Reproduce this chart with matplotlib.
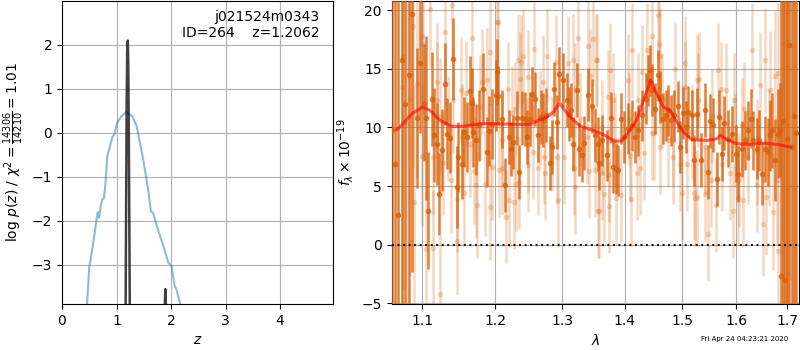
import numpy as np
import matplotlib
matplotlib.use('Agg')
import matplotlib.pyplot as plt
from matplotlib.ticker import NullLocator

# ---- left panel: redshift fit ----
chi2_z = [0.40, 0.46, 0.50, 0.52, 0.60, 0.65, 0.67, 0.68, 0.71, 0.74, 0.77, 0.80,
          0.83, 0.88, 0.92, 0.97, 1.01, 1.09, 1.17, 1.21, 1.29, 1.37, 1.43, 1.50,
          1.58, 1.63, 1.67, 1.74, 1.86, 1.95, 2.01, 2.06, 2.10, 2.17, 2.25]
chi2_logp = [-6.0, -3.89, -3.03, -2.92, -2.27, -1.82, -1.80, -1.93, -1.67, -1.50,
             -1.49, -1.10, -0.53, -0.30, -0.11, 0.00, 0.23, 0.38, 0.47, 0.45, 0.38,
             0.15, -0.23, -0.68, -1.29, -1.78, -1.82, -2.12, -2.58, -2.95, -3.03,
             -3.45, -3.57, -3.89, -6.0]

pz_z = [0.0, 1.10, 1.15, 1.165, 1.175, 1.185, 1.195, 1.2062, 1.215, 1.225, 1.235,
        1.245, 1.26, 1.30, 1.84, 1.87, 1.885, 1.895, 1.905, 1.92, 1.95, 4.98]
pz_logp = [-30, -20, -8, -4.5, -1.8, 0.6, 1.8, 2.1, 1.6, 0.0, -2.2, -4.5, -8, -20,
           -12, -5, -3.9, -3.55, -3.9, -5, -12, -30]

# ---- right panel: spectrum ----
model_lam = [1.0669, 1.0733, 1.0861, 1.1004, 1.1101, 1.1234, 1.1392, 1.1551, 1.1784,
             1.2021, 1.2263, 1.2510, 1.2634, 1.2762, 1.2863, 1.2957, 1.3019, 1.3124,
             1.3282, 1.3489, 1.3651, 1.3843, 1.3954, 1.4093, 1.4206, 1.4319, 1.4445,
             1.4520, 1.4664, 1.4783, 1.4902, 1.5020, 1.5171, 1.5446, 1.5631, 1.5692,
             1.5818, 1.6009, 1.6265, 1.6525, 1.6790, 1.7060]
model_flux = [9.80, 10.17, 11.16, 11.73, 11.45, 10.60, 10.09, 10.09, 10.31, 10.31,
              10.26, 10.26, 10.60, 10.88, 11.31, 12.07, 11.59, 10.88, 10.09, 9.74,
              9.38, 8.81, 8.84, 9.74, 10.65, 12.30, 14.00, 13.15, 11.73, 11.45, 10.45,
              9.60, 8.95, 8.89, 9.03, 9.32, 8.95, 8.61, 8.55, 8.66, 8.55, 8.32]

bin_lam = [1.0615, 1.0648, 1.0690, 1.0733, 1.0775, 1.0831, 1.0866, 1.0927, 1.0970,
           1.1022, 1.1049, 1.1079, 1.1124, 1.1159, 1.1191, 1.1225, 1.1266, 1.1302,
           1.1333, 1.1370, 1.1406, 1.1461, 1.1483, 1.1529, 1.1561, 1.1607, 1.1644,
           1.1668, 1.1690, 1.1728, 1.1765, 1.1830, 1.1878, 1.1911, 1.1949, 1.2011,
           1.2029, 1.2044, 1.2101, 1.2140, 1.2198, 1.2228, 1.2261, 1.2311, 1.2349,
           1.2385, 1.2434, 1.2468, 1.2508, 1.2542, 1.2583, 1.2632, 1.2669, 1.2708,
           1.2744, 1.2810, 1.2836, 1.2876, 1.2922, 1.2953, 1.3015, 1.3068, 1.3104,
           1.3135, 1.3171, 1.3225, 1.3266, 1.3304, 1.3345, 1.3400, 1.3473, 1.3517,
           1.3560, 1.3582, 1.3635, 1.3707, 1.3777, 1.3815, 1.3855, 1.3888, 1.3938,
           1.3998, 1.4065, 1.4122, 1.4177, 1.4223, 1.4291, 1.4360, 1.4404, 1.4433,
           1.4473, 1.4520, 1.4567, 1.4607, 1.4664, 1.4706, 1.4752, 1.4800, 1.4858,
           1.4918, 1.4959, 1.5018, 1.5061, 1.5108, 1.5170, 1.5217, 1.5260, 1.5338,
           1.5412, 1.5462, 1.5504, 1.5566, 1.5629, 1.5672, 1.5722, 1.5771, 1.5847,
           1.5922, 1.5987, 1.6037, 1.6102, 1.6166, 1.6229, 1.6282, 1.6326, 1.6393,
           1.6438, 1.6503, 1.6556, 1.6609, 1.6655, 1.6701, 1.6755, 1.6809, 1.6855,
           1.6875, 1.6910, 1.6956, 1.6995, 1.7043, 1.7092, 1.7130, 1.7180]
bin_flux = [9.8, 6.85, 2.56, 15.7, 12.0, 14.5, 19.7, 10.8, 15.5, 12.1, 10.8, 2.9,
            12.4, 9.35, 8.55, 4.35, 8.1, 13.67, 9.46, 9.12, 15.86, 4.9, 7.47, 6.9,
            9.6, 9.17, 13.1, 12.07, 9.6, 8.95, 10.17, 13.3, 7.9, 9.69, 10.26, 12.73,
            14.7, 12.7, 10.7, 5.05, 9.17, 8.18, 8.75, 10.8, 6.19, 10.8, 10.74, 9.17,
            10.74, 12.87, 12.39, 9.32, 10.88, 10.6, 11.02, 6.96, 8.32, 13.3, 10.45,
            14.58, 14.07, 12.3, 11.17, 11.5, 8.61, 13.15, 8.18, 7.61, 8.66, 12.8,
            11.79, 9.32, 8.61, 6.96, 8.89, 7.61, 10.83, 6.62, 6.48, 6.33, 10.74, 9.17,
            9.89, 10.17, 9.17, 9.74, 11.02, 12.45, 14.0, 14.86, 13.2, 11.6, 14.43,
            12.58, 10.74, 11.02, 11.45, 10.6, 11.02, 11.79, 8.32, 11.22, 10.03, 11.3,
            11.02, 7.19, 11.17, 7.19, 11.45, 6.19, 10.54, 10.17, 5.63, 10.88, 7.76,
            10.37, 9.04, 9.46, 7.76, 6.05, 8.18, 8.89, 9.74, 10.74, 8.89, 8.18, 8.89,
            6.05, 8.18, 7.9, 9.32, 9.74, 7.19, 9.46, 9.74, -2.7, 10.5, -3.04, 9.0,
            17.0, 8.3, 11.0, 9.5]
bin_err = [25, 25, 25, 25, 22, 20, 22, 6, 6, 5, 7, 5, 4, 4, 3.5, 3.5, 3.5, 3.5, 3,
           3, 3.5, 3.5, 3, 3, 3, 3, 3, 3, 3, 3, 3, 3, 3, 3, 3, 3, 2.8, 2.5, 2.5, 2.3,
           2.3, 2.3, 2.3, 2.3, 2.3, 2.3, 2.3, 2.3, 2.3, 2.3, 2.3, 2.3, 2.3, 2.3, 2.3,
           2.3, 2.3, 2.3, 2.3, 2.3, 2.3, 2.3, 2.3, 2.3, 2.3, 2.3, 2.3, 2.3, 2.3, 2.3,
           2.3, 2.3, 2.3, 2.3, 2.2, 2.2, 2.2, 2.2, 2.2, 2.2, 2.2, 2.2, 2.2, 2.2, 2.2,
           2.2, 2.2, 2.2, 2.2, 2.2, 2.2, 2.2, 2.2, 2.2, 2.2, 2.2, 2.2, 2.2, 2.2, 2.2,
           2.2, 2.2, 2.2, 2.2, 2.2, 2.2, 2.2, 2.3, 2.3, 2.3, 2.3, 2.3, 2.3, 2.3, 2.3,
           2.3, 2.4, 2.4, 2.4, 2.4, 2.4, 2.5, 2.5, 2.5, 2.5, 2.6, 2.6, 2.7, 2.8, 2.9,
           3.0, 3.2, 3.5, 3.8, 4.0, 25, 25, 25, 25, 25, 25, 25, 25]

raw_lam = [1.0733, 1.0754, 1.0797, 1.0840, 1.0883, 1.0892, 1.0927, 1.0992, 1.0995,
           1.1013, 1.1049, 1.1102, 1.1137, 1.1145, 1.1191, 1.1194, 1.1235, 1.1238,
           1.1279, 1.1302, 1.1347, 1.1383, 1.1393, 1.1414, 1.1461, 1.1469, 1.1515,
           1.1529, 1.1561, 1.1589, 1.1644, 1.1668, 1.1700, 1.1728, 1.1746, 1.1784,
           1.1808, 1.1854, 1.1878, 1.1925, 1.1928, 1.1949, 1.2021, 1.2044, 1.2058,
           1.2093, 1.2097, 1.2151, 1.2188, 1.2192, 1.2238, 1.2276, 1.2286, 1.2296,
           1.2326, 1.2345, 1.2360, 1.2374, 1.2408, 1.2474, 1.2478, 1.2483, 1.2557,
           1.2572, 1.2623, 1.2658, 1.2708, 1.2712, 1.2734, 1.2760, 1.2836, 1.2897,
           1.2913, 1.2938, 1.3031, 1.3093, 1.3171, 1.3187, 1.3198, 1.3202, 1.3241,
           1.3277, 1.3383, 1.3409, 1.3420, 1.3436, 1.3489, 1.3517, 1.3528, 1.3544,
           1.3570, 1.3582, 1.3625, 1.3629, 1.3668, 1.3733, 1.3737, 1.3745, 1.3761,
           1.3815, 1.3843, 1.3855, 1.3943, 1.4065, 1.4069, 1.4093, 1.4110, 1.4127,
           1.4206, 1.4223, 1.4262, 1.4291, 1.4336, 1.4377, 1.4463, 1.4473, 1.4508,
           1.4577, 1.4581, 1.4607, 1.4611, 1.4636, 1.4752, 1.4830, 1.4840, 1.4870,
           1.4959, 1.4990, 1.5049, 1.5053, 1.5079, 1.5170, 1.5217, 1.5229, 1.5260,
           1.5264, 1.5278, 1.5302, 1.5408, 1.5416, 1.5466, 1.5523, 1.5536, 1.5610,
           1.5648, 1.5709, 1.5726, 1.5798, 1.5879, 1.5926, 1.5960, 1.5974, 1.6025,
           1.6041, 1.6106, 1.6133, 1.6152, 1.6229, 1.6295, 1.6390, 1.6397, 1.6458,
           1.6522, 1.6556, 1.6570, 1.6635, 1.6655, 1.6705, 1.6755, 1.6789, 1.6809,
           1.6821, 1.6921, 1.7057]
raw_flux = [13.4, 16.1, 10.3, 12.4, 18.6, 3.6, 13.7, 17.8, 7.6, 17.1, -0.4, 20.1,
            -0.3, 7.5, 12.3, 13.9, -4.2, 10.9, 7.0, 18.1, 9.9, 5.5, 20.4, 12.3, 3.9,
            0.3, 13.2, 9.2, 4.4, 12.9, 8.6, 17.6, 6.3, 5.1, 3.4, 11.7, 13.9, 5.2,
            14.0, 16.4, 3.2, 6.6, 19.0, 19.0, 6.4, 6.5, 8.9, 2.4, 13.3, 3.8, 11.2,
            3.6, 11.6, 5.2, 15.7, 5.3, 14.1, 15.6, 16.1, 14.3, 6.8, 8.5, 7.9, 16.7,
            6.5, 10.8, 13.9, 7.5, 6.1, 16.1, 8.6, 15.6, 7.5, 3.8, 7.5, 15.5, 15.7,
            6.5, 13.2, 4.9, 17.6, 10.7, 9.2, 16.9, 6.3, 14.4, 17.5, 6.4, 15.7, 15.7,
            2.9, 2.9, 10.0, 6.1, 4.3, 12.6, 5.9, 3.3, 14.9, 12.3, 8.9, 4.0, 4.2,
            14.0, 10.7, 7.6, 3.9, 16.6, 6.1, 12.3, 6.5, 14.7, 7.8, 16.6, 9.5, 17.8,
            9.5, 19.6, 17.1, 16.1, 8.3, 12.3, 8.9, 8.9, 7.5, 15.0, 6.9, 4.4, 15.5,
            13.4, 6.9, 9.6, 4.4, 4.0, 14.0, 4.1, 12.3, 14.1, 4.3, 8.3, 0.9, 5.5, 11.0,
            3.4, 14.9, 13.3, 6.9, 13.2, 6.1, 2.9, 12.3, 8.9, 4.0, 5.5, 10.2, 3.8,
            11.6, 7.5, 16.6, 5.1, 7.9, 13.6, 1.8, 15.7, 4.1, 8.3, 13.2, 2.8, 14.4,
            5.5, 14.6, -0.5, 17.1, 17.0]
raw_err = [20, 20, 18, 15, 12, 10, 8, 6, 6, 6, 5, 5, 5, 5, 5, 5, 5, 5, 4.5, 4.5,
           4.5, 4.5, 4.5, 4.5, 4.5, 4.5, 4.5, 4.5, 4.5, 4.5, 4.5, 4.5, 4.5, 4.5, 4.5,
           4.5, 4.5, 4.5, 4.5, 4.5, 4.5, 4.5, 4, 4, 4, 4, 4, 4, 4, 4, 4, 4, 4, 4, 4,
           4, 4, 4, 4, 4, 4, 4, 4, 4, 4, 4, 4, 4, 4, 4, 4, 4, 4, 4, 4, 4, 4, 4, 4, 4,
           4, 4, 4, 4, 4, 4, 4, 4, 4, 4, 4, 4, 4, 4, 4, 4, 4, 4, 4, 4, 4, 4, 4, 4, 4,
           4, 4, 4, 4, 4, 4, 4, 4, 4, 4, 4, 4, 4, 4, 4, 4, 4, 4, 4, 4, 4, 4, 4, 4, 4,
           4, 4, 4, 4, 4, 4, 4, 4, 4, 4, 4, 4, 4, 4, 4, 4, 4, 4, 4, 4, 4, 4, 4, 4, 4,
           4, 4, 4, 4, 4, 4.5, 4.5, 4.5, 4.5, 5, 5, 5, 5, 5.5, 5.5, 6, 6, 20, 20]

lam_ticks = [1.1, 1.2, 1.3, 1.4, 1.5, 1.6, 1.7]

ORANGE = '#d9600a'

fig = plt.figure(figsize=(8, 3.5), dpi=100)

ax = fig.add_axes([0.0775, 0.1314, 0.3388, 0.8657])
ax.plot(chi2_z, chi2_logp, color='#1f77b4', alpha=0.5, lw=1.5)
ax.plot(pz_z, pz_logp, color='k', alpha=0.75, lw=1.8)
ax.set_xlim(0, 4.97)
ax.set_ylim(-3.89, 3.0)
ax.set_xticks([0, 1, 2, 3, 4])
ax.set_yticks([-3, -2, -1, 0, 1, 2])
ax.grid()
ax.set_xlabel(r'$z$')
ax.set_ylabel(r'$\log\,p(z)$ / $\chi^2=\frac{14306}{14210}=1.01$')
ax.text(0.95, 0.97, 'j021524m0343\nID=264    z=1.2062', ha='right', va='top',
        transform=ax.transAxes, fontsize=10)

bx = fig.add_axes([0.4896, 0.1314, 0.5095, 0.8657])
bx.errorbar(raw_lam, raw_flux, yerr=raw_err, fmt='o', color=ORANGE, alpha=0.25,
            ms=4, mew=0, elinewidth=1.8, zorder=2)
bx.errorbar(bin_lam, bin_flux, yerr=bin_err, fmt='o', color=ORANGE, alpha=0.8,
            ms=4, mew=0, elinewidth=1.8, zorder=3)
bx.plot(model_lam, model_flux, color='red', alpha=0.6, lw=2.2, zorder=4)
bx.axhline(0, color='k', linestyle=':', lw=1.5, alpha=0.85, zorder=5)
bx.set_xscale('log')
bx.set_xlim(1.0605, 1.7245)
bx.set_ylim(-5.06, 20.77)
bx.set_xticks(lam_ticks)
bx.set_xticklabels([str(t) for t in lam_ticks])
bx.xaxis.set_minor_locator(NullLocator())
bx.set_yticks([-5, 0, 5, 10, 15, 20])
bx.grid()
bx.set_xlabel(r'$\lambda$')
bx.set_ylabel(r'$f_\lambda\times10^{-19}$')

fig.text(0.985, 0.022, 'Fri Apr 24 04:23:21 2020', ha='right', va='bottom', fontsize=5)

fig.savefig('out.png', dpi=100)
